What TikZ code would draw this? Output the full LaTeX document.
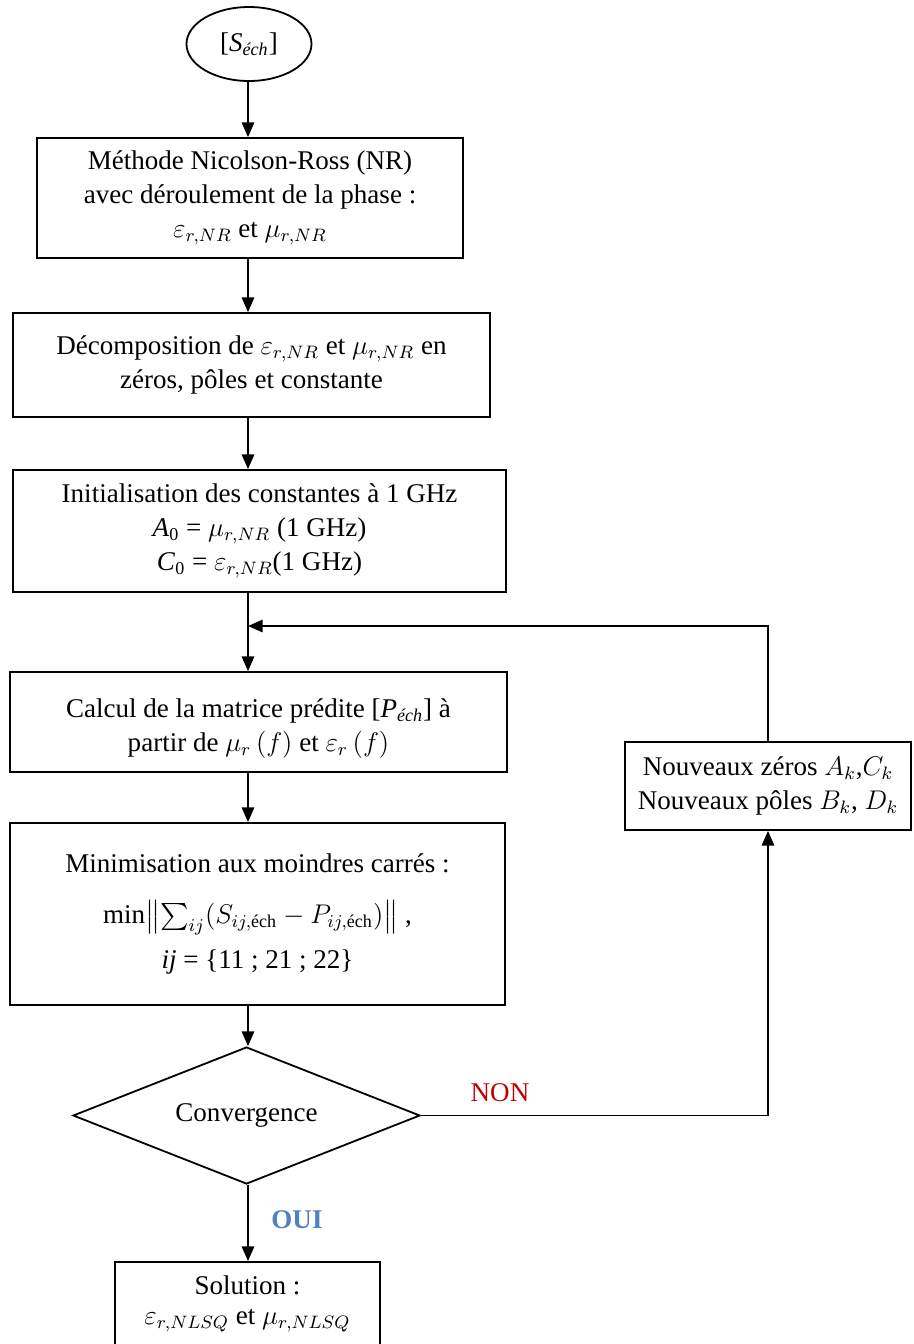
\documentclass[tikz,border=0pt]{standalone}
\usepackage{amsmath}
\usepackage{fontspec}
\setmainfont{Liberation Serif}
\usetikzlibrary{shapes.geometric,arrows.meta}
\definecolor{nonred}{HTML}{C00000}
\definecolor{ouiblue}{HTML}{4F81BD}
\newcommand{\px}{0.444pt}

\begin{document}
\begin{tikzpicture}[x=\px, y=-\px,
  every node/.style={font=\fontsize{12}{15}\selectfont, align=center, inner sep=0pt},
  stepbox/.style={draw, line width=0.8pt, rectangle},
  decision/.style={draw, line width=0.8pt, diamond, aspect=2.5},
  arr/.style={-{Triangle[length=6.5pt,width=5.5pt]}, line width=0.8pt}]
\useasboundingbox (0,0) rectangle (913,1344);

\pgfmathsetmacro{\fcX}{248}
\pgfmathsetmacro{\fcL}{626}
\coordinate (spine) at (\fcX,0);
\coordinate (loop) at (\fcX,\fcL);

\node[draw, ellipse, line width=0.8pt, minimum width=125*\px, minimum height=74*\px] (sech) at (249,44)
  {[\textit{S}$_{\textit{éch}}$]};

\node[stepbox, minimum width=426*\px, minimum height=120*\px] (nr) at (250,198)
  {Méthode Nicolson-Ross (NR)\\avec déroulement de la phase :\\$\varepsilon_{r,NR}$ et $\mu_{r,NR}$};
\node[stepbox, minimum width=477*\px, minimum height=104*\px] (decomp) at (251.5,365)
  {Décomposition de $\varepsilon_{r,NR}$ et $\mu_{r,NR}$ en\\zéros, pôles et constante};
\node[stepbox, minimum width=493*\px, minimum height=122*\px] (init) at (259.5,531)
  {Initialisation des constantes à 1 GHz\\\textit{A}\textsubscript{0} = $\mu_{r,NR}$ (1 GHz)\\\textit{C}\textsubscript{0} = $\varepsilon_{r,NR}$(1 GHz)};
\node[stepbox, minimum width=497*\px, minimum height=100*\px] (calc) at (258.5,722)
  {\rule{0pt}{14pt}Calcul de la matrice prédite [\textit{P}$_{\textit{éch}}$] à\\partir de $\mu_r\,(f)$ et $\varepsilon_r\,(f)$};
\node[stepbox, minimum width=495*\px, minimum height=182*\px] (minim) at (257.5,914)
  {Minimisation aux moindres carrés :\\[8pt]$\min\bigl\Vert\textstyle\sum_{ij}(S_{ij,\text{éch}} - P_{ij,\text{éch}})\bigr\Vert$ ,\\[5pt]\textit{ij} = \{11 ; 21 ; 22\}};
\node[decision, minimum width=347*\px, minimum height=137*\px] (conv) at (246.5,1115.5) {Convergence};
\node[stepbox, minimum width=265*\px, minimum height=84*\px] (sol) at (247.5,1304)
  {Solution :\\[-2pt]$\varepsilon_{r,NLSQ}$ et $\mu_{r,NLSQ}$};
\node[stepbox, minimum width=286*\px, minimum height=88*\px] (nouv) at (768,786)
  {Nouveaux zéros $A_k$,$C_k$\\Nouveaux pôles $B_k$, $D_k$};

\node[text=nonred] (non) at (500,1093) {NON};
\node[text=ouiblue, font=\fontsize{12}{15}\selectfont\bfseries] (oui) at (297,1220) {OUI};

\draw[arr] (sech.south -| spine) -- (nr.north -| spine);
\draw[arr] (nr.south -| spine) -- (decomp.north -| spine);
\draw[arr] (decomp.south -| spine) -- (init.north -| spine);
\draw[arr] (init.south -| spine) -- (calc.north -| spine);
\draw[arr] (calc.south -| spine) -- (minim.north -| spine);
\draw[arr] (minim.south -| spine) -- (conv.north -| spine);
\draw[arr] (conv.south -| spine) -- (sol.north -| spine);
\draw[arr] (nouv.north) |- (loop);
\draw[arr] (conv.east) -| (nouv.south);
\end{tikzpicture}
\end{document}
